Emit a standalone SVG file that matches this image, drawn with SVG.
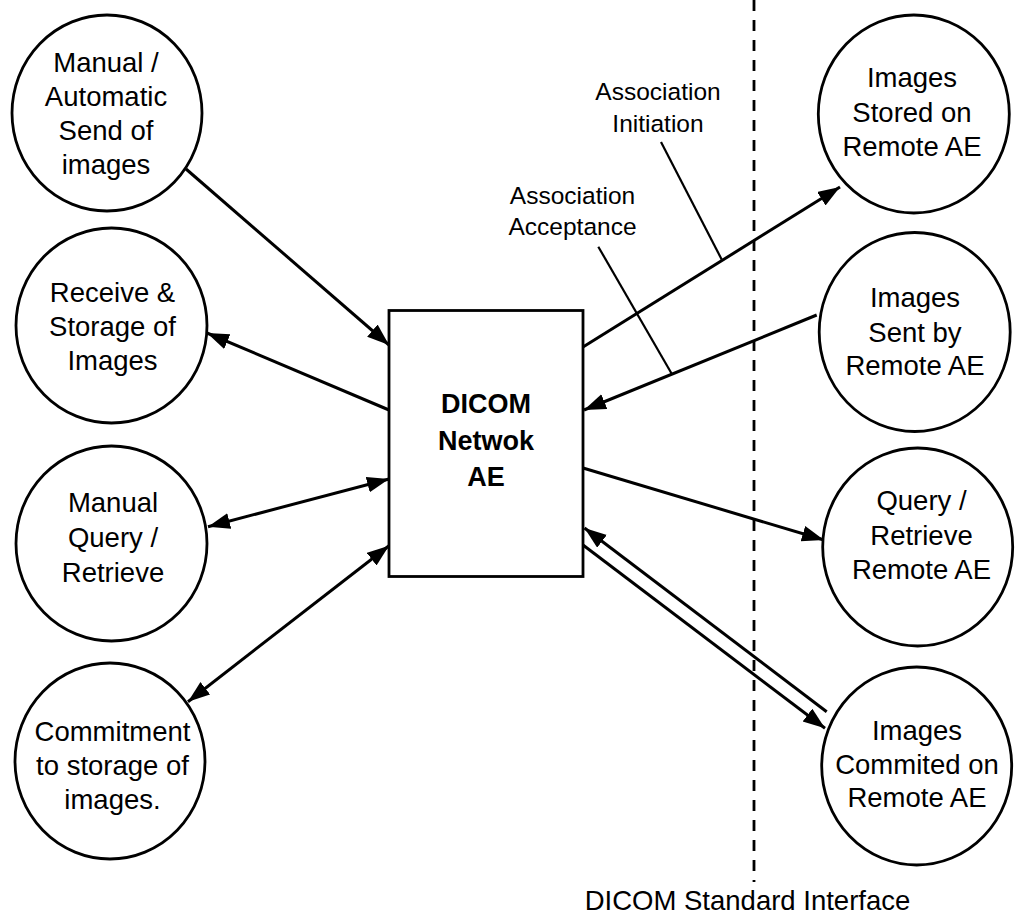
<svg xmlns="http://www.w3.org/2000/svg" width="1021" height="920" viewBox="0 0 1021 920">
<style>
.node{fill:#fff;stroke:#000;stroke-width:2.8}
.t{font-family:"Liberation Sans",Arial,sans-serif;font-size:27.5px;text-anchor:middle;fill:#000}
.b{font-weight:bold;font-size:27px}
.lab{font-family:"Liberation Sans",Arial,sans-serif;font-size:24.5px;text-anchor:middle;fill:#000}
.c{fill:none;stroke:#000;stroke-width:3}
.ld{fill:none;stroke:#000;stroke-width:2.2}
</style>
<defs>
<marker id="ah" markerUnits="userSpaceOnUse" markerWidth="24" markerHeight="18" refX="22" refY="8" orient="auto-start-reverse" viewBox="0 0 24 18">
<path d="M0,0 L22,8 L0,16 z" fill="#000"/>
</marker>
</defs>
<rect width="1021" height="920" fill="#fff"/>
<g id="boundary">
<line x1="754" y1="0" x2="754" y2="882" stroke="#000" stroke-width="2.8" stroke-dasharray="11,9"/>
<text class="t" x="747.5" y="910">DICOM Standard Interface</text>
</g>
<g id="connectors">
<line class="c" x1="186" y1="169" x2="389" y2="345" marker-end="url(#ah)"/>
<line class="c" x1="389" y1="410" x2="207" y2="333" marker-end="url(#ah)"/>
<line class="c" x1="208" y1="526.7" x2="389" y2="479" marker-start="url(#ah)" marker-end="url(#ah)"/>
<line class="c" x1="188" y1="701.7" x2="389" y2="545.7" marker-start="url(#ah)" marker-end="url(#ah)"/>
<line class="c" x1="583" y1="347" x2="840" y2="187" marker-end="url(#ah)"/>
<line class="c" x1="816.7" y1="315" x2="584" y2="410" marker-end="url(#ah)"/>
<line class="c" x1="583" y1="468" x2="824" y2="540" marker-end="url(#ah)"/>
<line class="c" x1="826.7" y1="711.7" x2="584.5" y2="528" marker-end="url(#ah)"/>
<line class="c" x1="583" y1="545" x2="825" y2="728.3" marker-end="url(#ah)"/>
<line class="ld" x1="661" y1="142" x2="721.7" y2="259.5"/>
<line class="ld" x1="598.3" y1="246.7" x2="671.7" y2="373.8"/>
<text class="lab" x="658" y="100">Association</text>
<text class="lab" x="658" y="131.7">Initiation</text>
<text class="lab" x="572.5" y="204">Association</text>
<text class="lab" x="572.5" y="235">Acceptance</text>
</g>
<g id="dicom-network-ae">
<rect class="node" x="389" y="310.5" width="194" height="266" stroke-width="3"/>
<text class="t b" x="486" y="413">DICOM</text>
<text class="t b" x="486" y="450">Netwok</text>
<text class="t b" x="486" y="486">AE</text>
</g>
<g id="send-images">
<ellipse class="node" cx="107" cy="113" rx="95" ry="98"/>
<text class="t" x="106" y="71.5">Manual /</text>
<text class="t" x="106" y="105.5">Automatic</text>
<text class="t" x="106" y="139.5">Send of</text>
<text class="t" x="106" y="173.5">images</text>
</g>
<g id="receive-storage">
<ellipse class="node" cx="111.5" cy="325.5" rx="95.5" ry="97.5"/>
<text class="t" x="112.5" y="301.5">Receive &amp;</text>
<text class="t" x="112.5" y="335.5">Storage of</text>
<text class="t" x="112.5" y="369.5">Images</text>
</g>
<g id="manual-query">
<ellipse class="node" cx="111.5" cy="543.5" rx="95.5" ry="97.5"/>
<text class="t" x="113" y="511.5">Manual</text>
<text class="t" x="113" y="546.5">Query /</text>
<text class="t" x="113" y="581.5">Retrieve</text>
</g>
<g id="commitment">
<ellipse class="node" cx="110" cy="761" rx="95" ry="98"/>
<text class="t" x="112.5" y="740.5">Commitment</text>
<text class="t" x="112.5" y="775">to storage of</text>
<text class="t" x="112.5" y="808.5">images.</text>
</g>
<g id="images-stored">
<ellipse class="node" cx="913.8" cy="114" rx="95.5" ry="99"/>
<text class="t" x="912" y="87">Images</text>
<text class="t" x="912" y="121.5">Stored on</text>
<text class="t" x="912" y="155.5">Remote AE</text>
</g>
<g id="images-sent">
<ellipse class="node" cx="914.7" cy="332" rx="95.5" ry="99.5"/>
<text class="t" x="915" y="307">Images</text>
<text class="t" x="915" y="341.5">Sent by</text>
<text class="t" x="915" y="375">Remote AE</text>
</g>
<g id="query-retrieve-remote">
<ellipse class="node" cx="917.7" cy="547" rx="95" ry="99"/>
<text class="t" x="921.5" y="510">Query /</text>
<text class="t" x="921.5" y="544.5">Retrieve</text>
<text class="t" x="921.5" y="578.5">Remote AE</text>
</g>
<g id="images-commited">
<ellipse class="node" cx="916.7" cy="766" rx="95" ry="99"/>
<text class="t" x="917" y="740">Images</text>
<text class="t" x="917" y="773.5">Commited on</text>
<text class="t" x="917" y="806.5">Remote AE</text>
</g>
</svg>
